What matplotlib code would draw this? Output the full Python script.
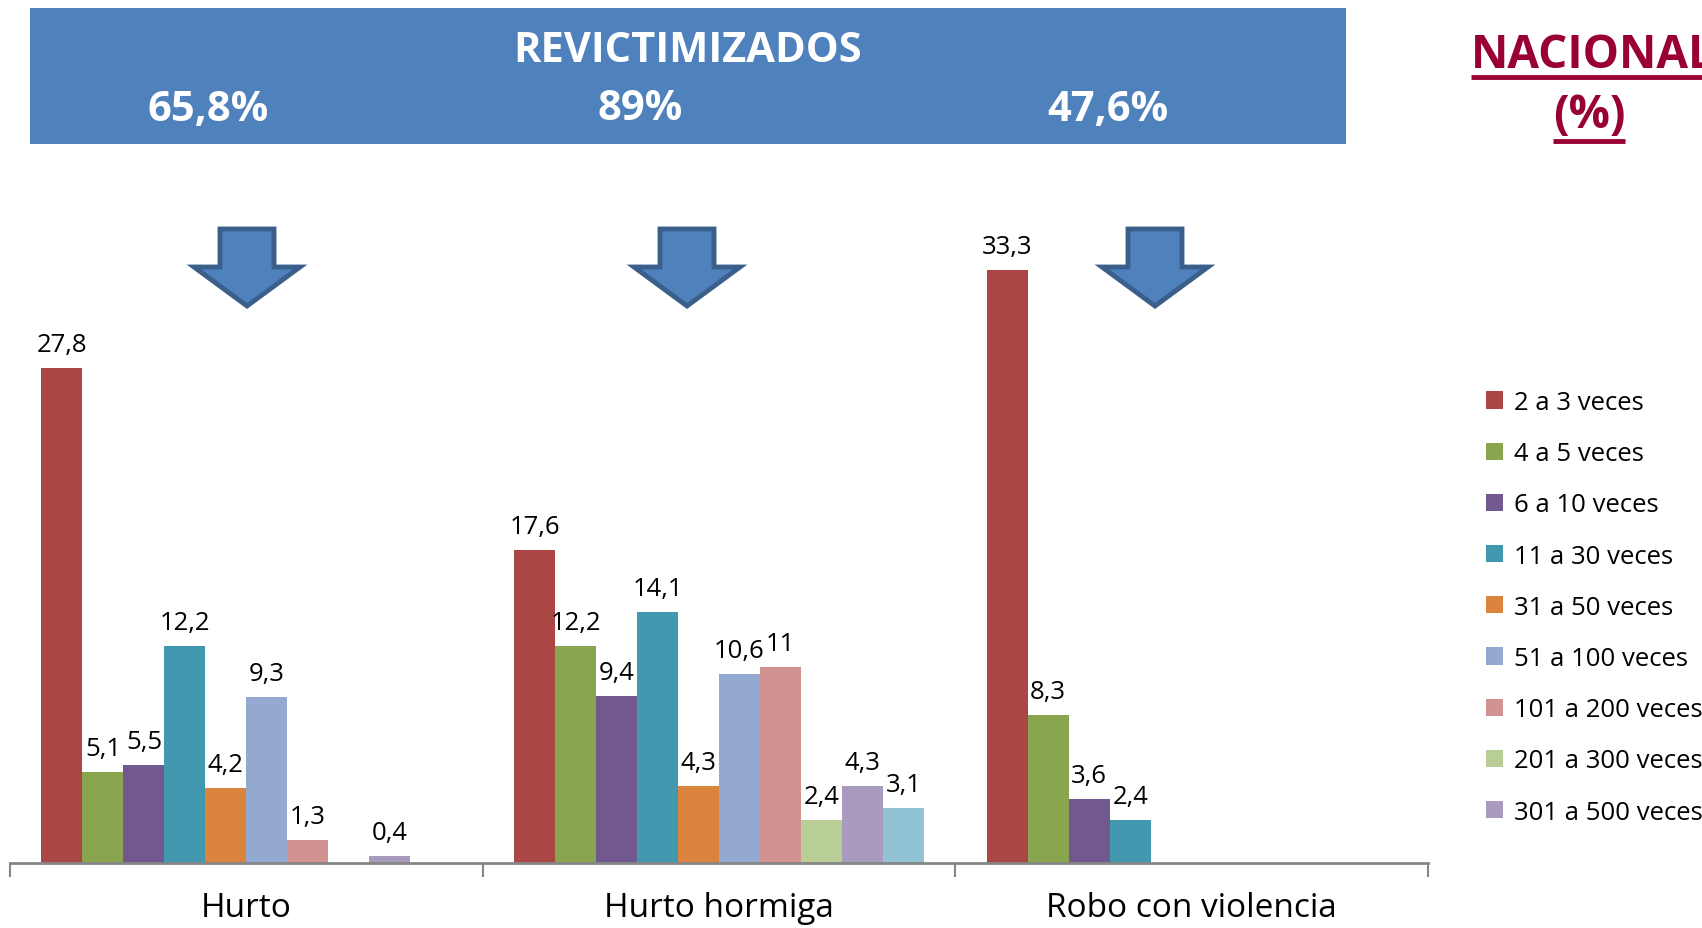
import matplotlib
matplotlib.use("Agg")
import matplotlib.pyplot as plt
from matplotlib.patches import Rectangle, Polygon, Patch
from matplotlib.lines import Line2D

plt.rcParams['font.family'] = ['Open Sans', 'DejaVu Sans']

categories = ["Hurto", "Hurto hormiga", "Robo con violencia"]
series = ["2 a 3 veces", "4 a 5 veces", "6 a 10 veces", "11 a 30 veces",
          "31 a 50 veces", "51 a 100 veces", "101 a 200 veces",
          "201 a 300 veces", "301 a 500 veces", "Más de 500 veces"]
colors = ["#AA4643", "#89A54E", "#71588F", "#4198AF", "#DB843D",
          "#93A9CF", "#D19392", "#B9CD96", "#A99BBD", "#91C3D5"]
# values per series: [Hurto, Hurto hormiga, Robo con violencia]
values = [
    [27.8, 17.6, 33.3],
    [5.1, 12.2, 8.3],
    [5.5, 9.4, 3.6],
    [12.2, 14.1, 2.4],
    [4.2, 4.3, None],
    [9.3, 10.6, None],
    [1.3, 11, None],
    [None, 2.4, None],
    [0.4, 4.3, None],
    [None, 3.1, None],
]
header_pcts = ["65,8%", "89%", "47,6%"]

W, H = 1702, 929
fig = plt.figure(figsize=(W / 100, H / 100), dpi=100)

# axes placed in pixel terms
ax = fig.add_axes([10 / W, (H - 864) / H, (1428 - 10) / W, 0.69])
ax.set_xlim(-0.5, 2.5)
ax.set_ylim(0, 36)

bw = 0.0867
for i, (name, col, vals) in enumerate(zip(series, colors, values)):
    off = (i - 4.5) * bw
    for j, v in enumerate(vals):
        if v is None:
            continue
        ax.bar(j + off, v, width=bw, color=col, linewidth=0)
        ax.annotate(f"{v:g}".replace('.', ','), (j + off, v), xytext=(0, 8),
                    textcoords='offset points', ha='center', va='bottom',
                    fontsize=18.5, color='black')

for s in ['top', 'right', 'left']:
    ax.spines[s].set_visible(False)
ax.spines['bottom'].set_color('#868686')
ax.spines['bottom'].set_linewidth(2)
ax.set_yticks([])
ax.set_xticks(range(3))
ax.set_xticklabels(categories, fontsize=24)
ax.tick_params(axis='x', which='major', length=0, pad=20)
ax.set_xticks([-0.5, 0.5, 1.5, 2.5], minor=True)
ax.tick_params(axis='x', which='minor', length=10, width=1.5, color='#868686')

# header box
fig.patches.append(Rectangle((30 / W, 1 - 145 / H), (1346 - 30) / W, (145 - 9) / H,
                             transform=fig.transFigure, facecolor='#4F81BD',
                             edgecolor='none'))
fig.text(688 / W, 1 - 52 / H, "REVICTIMIZADOS", color='white', fontsize=30,
         fontweight='bold', ha='center', va='center')
for xp, t in zip([208, 640, 1108], header_pcts):
    fig.text(xp / W, 1 - 110 / H, t, color='white', fontsize=30,
             fontweight='bold', ha='center', va='center')

# NACIONAL (%) - runs off the right edge as in the original slide
red = '#990033'
t1 = fig.text(1471 / W, 1 - 56 / H, "NACIONAL", color=red, fontsize=33,
              fontweight='bold', ha='left', va='center')
t2 = fig.text(1589 / W, 1 - 116 / H, "(%)", color=red, fontsize=33,
              fontweight='bold', ha='center', va='center')
fig.canvas.draw()
r = fig.canvas.get_renderer()
for t, uy in [(t1, 78), (t2, 142)]:
    bb = t.get_window_extent(r)
    fig.add_artist(Line2D([bb.x0 / W, min(bb.x1, W) / W], [1 - uy / H, 1 - uy / H],
                          transform=fig.transFigure, color=red, linewidth=3.5,
                          solid_capstyle='butt'))

# block arrows
for cx in [247, 687, 1155]:
    pts = [(cx - 27, 230), (cx + 27, 230), (cx + 27, 268), (cx + 53, 268),
           (cx, 307), (cx - 53, 268), (cx - 27, 268)]
    fig.patches.append(Polygon([(x / W, 1 - y / H) for x, y in pts], closed=True,
                               transform=fig.transFigure, facecolor='#4F81BD',
                               edgecolor='#3A5F8B', linewidth=3.5, joinstyle='miter'))

# legend (first nine series only)
handles = [Patch(facecolor=c, edgecolor='none') for c in colors[:9]]
fig.legend(handles, series[:9], loc='upper left',
           bbox_to_anchor=(1486 / W, 1 - 391 / H), frameon=False,
           fontsize=18.5, handlelength=0.65, handleheight=0.65, handletextpad=0.45,
           labelspacing=1.02, borderaxespad=0, borderpad=0)

fig.savefig("out.png", dpi=100)
